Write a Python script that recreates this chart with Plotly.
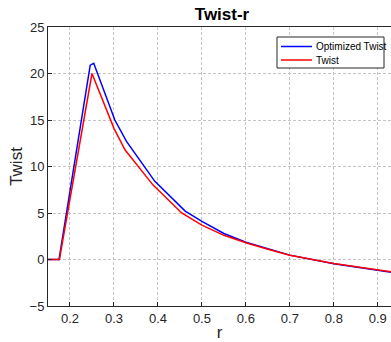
import plotly.graph_objects as go

r_opt = [0.15, 0.175, 0.246, 0.254, 0.302, 0.3285, 0.393, 0.462, 0.5, 0.55, 0.6, 0.65, 0.7, 0.8, 0.9, 0.95]
twist_opt = [0, 0, 20.9, 21.1, 15.0, 12.7, 8.4, 5.2, 4.1, 2.8, 1.86, 1.15, 0.47, -0.45, -1.12, -1.5]

r_base = [0.15, 0.176, 0.25, 0.3, 0.325, 0.389, 0.454, 0.5, 0.55, 0.6, 0.65, 0.7, 0.8, 0.9, 0.95]
twist_base = [0, 0, 20.0, 14.1, 11.8, 8.0, 5.0, 3.7, 2.6, 1.8, 1.1, 0.45, -0.43, -1.07, -1.45]

series_names = ["Optimized Twist", "Twist"]
series_colors = ["#0000ff", "#ff0000"]

x_ticks = [0.2, 0.3, 0.4, 0.5, 0.6, 0.7, 0.8, 0.9]
y_ticks = [-5, 0, 5, 10, 15, 20, 25]

fig = go.Figure()
for xs, ys, nm, col in zip([r_opt, r_base], [twist_opt, twist_base], series_names, series_colors):
    fig.add_trace(go.Scatter(x=xs, y=ys, mode="lines", name=nm,
                             line=dict(color=col, width=1.5)))

font_family = "Liberation Sans, Arial, sans-serif"
L, T, B = 48, 27, 36
PW, PH = 391 - L, 342 - T - B


def px_x(p):
    return (p - L) / PW


def px_y(p):
    return 1 - (p - T) / PH


# compact MATLAB-style legend box
shapes = [dict(type="rect", xref="paper", yref="paper",
               x0=px_x(277), x1=px_x(384), y0=px_y(68), y1=px_y(37),
               fillcolor="white", line=dict(color="#262626", width=1), layer="above")]
annotations = []
for i, (nm, col) in enumerate(zip(series_names, series_colors)):
    yy = px_y(46.5 + i * 13.5)
    shapes.append(dict(type="line", xref="paper", yref="paper",
                       x0=px_x(281), x1=px_x(312), y0=yy, y1=yy,
                       line=dict(color=col, width=1.5), layer="above"))
    annotations.append(dict(text=nm, xref="paper", yref="paper", x=px_x(314), y=yy,
                            xanchor="left", yanchor="middle", showarrow=False,
                            font=dict(size=10, color="black", family=font_family)))

fig.update_layout(
    width=391, height=342,
    margin=dict(l=L, r=0, t=T, b=B, autoexpand=False),
    paper_bgcolor="white", plot_bgcolor="white",
    font=dict(family=font_family, size=13, color="#262626"),
    title=dict(text="<b>Twist-r</b>", x=222/391, xanchor="center", y=1-14/342, yanchor="middle",
               font=dict(size=17, color="black")),
    showlegend=False,
    shapes=shapes,
    annotations=annotations,
    xaxis=dict(range=[0.15, 0.93], tickvals=x_ticks, ticktext=[f"{v:.1f}" for v in x_ticks],
               showgrid=True, gridcolor="#c4c4c4", griddash="3px,2px", gridwidth=1,
               showline=True, linecolor="#262626", linewidth=1, mirror=True,
               ticks="inside", ticklen=4, tickcolor="#262626", zeroline=False,
               title=dict(text="r", font=dict(size=17), standoff=14)),
    yaxis=dict(range=[-5, 25], tickvals=y_ticks,
               showgrid=True, gridcolor="#c4c4c4", griddash="3px,2px", gridwidth=1,
               showline=True, linecolor="#262626", linewidth=1, mirror=False,
               ticks="inside", ticklen=4, tickcolor="#262626", zeroline=False,
               title=dict(text="Twist", font=dict(size=17), standoff=2)),
)
fig.write_html("out.html")
